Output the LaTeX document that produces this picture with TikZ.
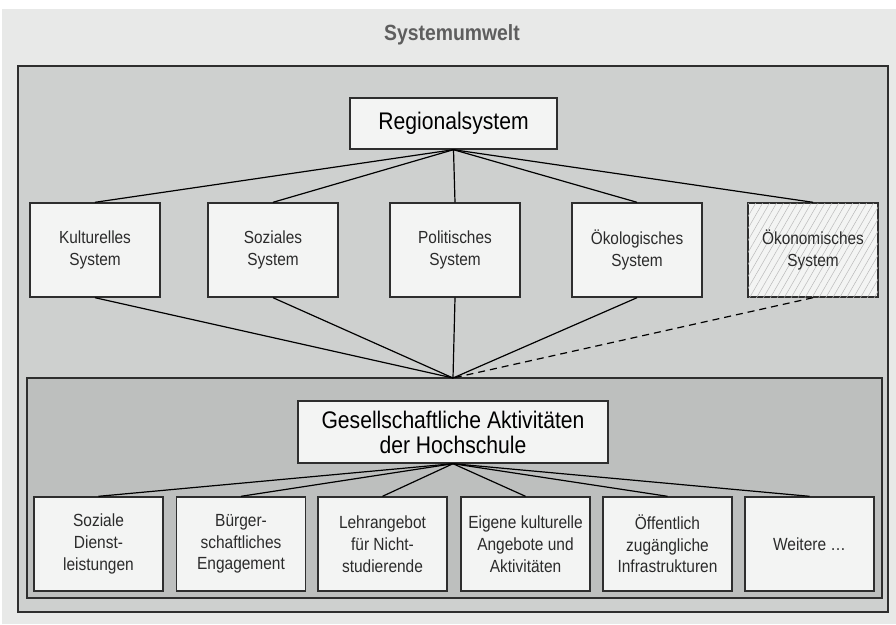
\documentclass[tikz,border=0pt]{standalone}
\usepackage{fontspec}
\setmainfont{Liberation Sans}[FakeStretch=0.88]
\usetikzlibrary{patterns.meta}
\definecolor{bglight}{HTML}{E8E9E8}
\definecolor{bgmid}{HTML}{CED0CF}
\definecolor{bgdark}{HTML}{BDBFBE}
\definecolor{boxfill}{HTML}{F3F4F3}
\definecolor{txt}{HTML}{2B2B2B}
\definecolor{ttl}{HTML}{5E5E5E}
\definecolor{edge}{HTML}{2E2E2E}
\tikzset{
  sysbox/.style={draw=edge, line width=1.4pt, fill=boxfill, text=txt,
    minimum width=130pt, minimum height=94pt, inner sep=0pt, align=center,
    font=\fontsize{17.5}{21.5}\selectfont},
  actbox/.style={sysbox, minimum width=129pt, font=\fontsize{17.6}{21.7}\selectfont},
  mainbox/.style={draw=edge, line width=1.4pt, fill=boxfill, text=black,
    inner sep=0pt, align=center, font=\fontsize{24}{25}\selectfont},
  conn/.style={draw=black, line width=1.2pt},
  hatched/.style={postaction={pattern={Lines[angle=60,distance=6pt,line width=0.5pt]}, pattern color=gray!55}},
  area/.style={draw=edge, line width=1.4pt}
}
\begin{document}
\begin{tikzpicture}[x=1pt,y=-1pt]
\useasboundingbox (0,0) rectangle (896,624);
\fill[white] (0,0) rectangle (896,624);
\fill[bglight] (2,9) rectangle (896,624);
\node[text=ttl, font=\bfseries\fontsize{22}{24}\selectfont] (title) at (452,35) {Systemumwelt};
\draw[area, fill=bgmid] (18,66) rectangle (888,612);
\draw[edge, line width=2pt] (18,66) -- (888,66);
\draw[area, fill=bgdark] (27,378) rectangle (882,598);
\coordinate (m) at (453,378);

\node[mainbox, minimum width=207pt, minimum height=51pt] (reg) at (453.5,123.5) {Regionalsystem};

\node[sysbox] (kul) at (95,250) {Kulturelles\\System};
\node[sysbox] (soz) at (273,250) {Soziales\\System};
\node[sysbox] (pol) at (455,250) {Politisches\\System};
\node[sysbox] (oek) at (637,250) {Ökologisches\\System};
\node[sysbox, hatched] (oko) at (813,250) {Ökonomisches\\System};

\foreach \b in {kul,soz,pol,oek,oko} \draw[conn] (reg.south) -- (\b.north);
\foreach \b in {kul,soz,pol,oek} \draw[conn] (\b.south) -- (m);
\draw[conn, dash pattern=on 7pt off 5pt] (oko.south) -- (m);

\node[mainbox, minimum width=310pt, minimum height=62pt] (ges) at (453,432) {Gesellschaftliche Aktivitäten\\der Hochschule};

\node[actbox] (a1) at (98.5,544) {Soziale\\Dienst-\\leistungen};
\node[actbox] (a2) at (241,544) {Bürger-\\schaftliches\\Engagement};
\node[actbox] (a3) at (382.5,544) {Lehrangebot\\für Nicht-\\studierende};
\node[actbox] (a4) at (525.5,544) {Eigene kulturelle\\Angebote und\\Aktivitäten};
\node[actbox] (a5) at (667.5,544) {Öffentlich\\zugängliche\\Infrastrukturen};
\node[actbox] (a6) at (809.5,544) {Weitere …};

\foreach \b in {a1,a2,a3,a4,a5,a6} \draw[conn] (ges.south) -- (\b.north);
\end{tikzpicture}
\end{document}
